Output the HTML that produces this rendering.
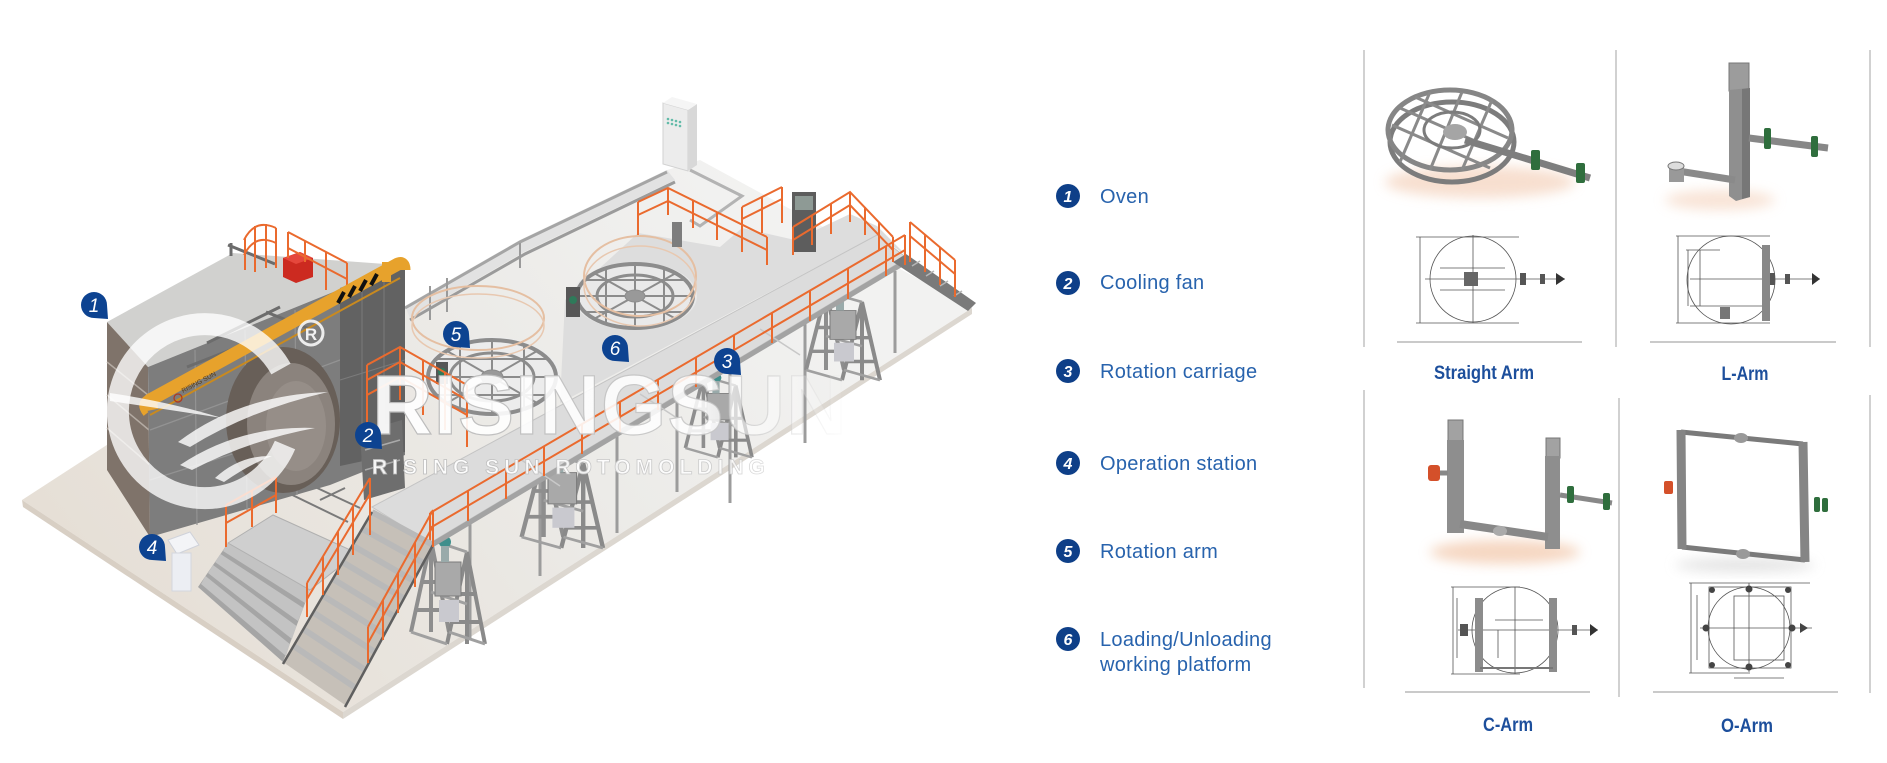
<!DOCTYPE html>
<html><head><meta charset="utf-8">
<style>
html,body{margin:0;padding:0;background:#fff;}
body{width:1887px;height:763px;overflow:hidden;position:relative;font-family:"Liberation Sans",sans-serif;}
svg{position:absolute;left:0;top:0;}
</style></head>
<body>
<svg width="1887" height="763" viewBox="0 0 1887 763" xmlns="http://www.w3.org/2000/svg" font-family="Liberation Sans, sans-serif">
<defs>
 <linearGradient id="floorG" x1="150" y1="650" x2="760" y2="180" gradientUnits="userSpaceOnUse">
  <stop offset="0" stop-color="#e6dfd6"/><stop offset="0.6" stop-color="#ecebe8"/><stop offset="1" stop-color="#f2f2f1"/>
 </linearGradient>
 <linearGradient id="wmG" x1="370" y1="0" x2="850" y2="0" gradientUnits="userSpaceOnUse">
  <stop offset="0" stop-color="#fff" stop-opacity="0.93"/><stop offset="0.7" stop-color="#fff" stop-opacity="0.85"/><stop offset="1" stop-color="#fff" stop-opacity="0"/>
 </linearGradient>
 <linearGradient id="wmS" x1="370" y1="0" x2="850" y2="0" gradientUnits="userSpaceOnUse">
  <stop offset="0" stop-color="#b9b9b9" stop-opacity="1"/><stop offset="0.75" stop-color="#c4c4c4" stop-opacity="0.8"/><stop offset="1" stop-color="#ccc" stop-opacity="0"/>
 </linearGradient>
 <filter id="bl" x="-50%" y="-50%" width="200%" height="200%"><feGaussianBlur stdDeviation="6"/></filter>
 <g id="car">
  <path d="M6,100 L26,8 L44,100 M26,8 L26,100 M12,78 L40,78 M16,50 L36,50" stroke="#8e8e8e" stroke-width="4" fill="none"/>
  <path d="M42,112 L62,20 L80,112 M62,20 L62,112 M48,90 L76,90 M52,62 L72,62" stroke="#8a8a8a" stroke-width="4" fill="none"/>
  <path d="M26,8 L62,20 M6,100 L42,112 M44,100 L80,112 M26,60 L62,72" stroke="#a0a0a0" stroke-width="3" fill="none"/>
  <rect x="30" y="30" width="26" height="34" fill="#a9a9a9" stroke="#7c7c7c"/>
  <rect x="34" y="68" width="20" height="22" fill="#c9c9cf"/>
  <circle cx="40" cy="10" r="6" fill="#3f8f8c"/>
  <rect x="36" y="14" width="8" height="16" fill="#9aa"/>
 </g>
</defs>

<rect width="1887" height="763" fill="#fff"/>

<!-- FLOOR -->
<polygon points="22,500 150,417 405,306 667,170 700,160 972,308 343,712" fill="url(#floorG)"/>
<polygon points="22,500 343,712 343,719 23,507" fill="#d8cfc4"/>
<polygon points="343,712 972,308 972,314 343,719" fill="#dcd7d0"/>

<!-- track rails -->
<polygon points="405,306 520,240 667,170 675,180 524,252 410,318" fill="#e2e2e2"/>
<polyline points="405,308 520,242 667,172" fill="none" stroke="#a5a5a5" stroke-width="3"/>
<polyline points="410,320 525,254 675,182" fill="none" stroke="#9b9b9b" stroke-width="3"/>
<polyline points="690,170 742,196 700,226 690,220" fill="none" stroke="#b3b3b3" stroke-width="3"/>
<g stroke="#9a9a9a" stroke-width="2"><line x1="430" y1="286" x2="430" y2="320"/><line x1="447" y1="278" x2="447" y2="312"/><line x1="520" y1="243" x2="520" y2="268"/></g>

<!-- cabinet -->
<polygon points="663,103 688,110 688,171 663,164" fill="#ececec" stroke="#d2d2d2"/>
<polygon points="688,110 697,104 697,165 688,171" fill="#d8d8d8"/>
<polygon points="663,103 672,97 697,104 688,110" fill="#f5f5f5"/>
<g fill="#63bba9"><circle cx="668" cy="119" r="1.3"/><circle cx="672" cy="120" r="1.3"/><circle cx="676" cy="121" r="1.3"/><circle cx="668" cy="123" r="1.3"/><circle cx="672" cy="124" r="1.3"/><circle cx="676" cy="125" r="1.3"/><circle cx="680" cy="122" r="1.3"/><circle cx="680" cy="126" r="1.3"/></g>

<!-- floor lines in front of oven -->
<g stroke="#7a7a7a" stroke-width="2" fill="none">
 <line x1="280" y1="489" x2="348" y2="522"/><line x1="300" y1="480" x2="360" y2="508"/><line x1="320" y1="500" x2="345" y2="488"/>
</g>

<!-- support legs & carriages -->
<g stroke="#9c9c9c" stroke-width="3">
 <line x1="540" y1="478" x2="540" y2="576"/><line x1="617" y1="433" x2="617" y2="533"/><line x1="677" y1="398" x2="677" y2="492"/>
 <line x1="730" y1="367" x2="730" y2="503"/><line x1="805" y1="323" x2="805" y2="443"/><line x1="895" y1="271" x2="895" y2="353"/>
 <line x1="470" y1="520" x2="470" y2="640"/>
</g>
<use href="#car" transform="translate(405,532) scale(1,1)"/>
<use href="#car" transform="translate(515,445) scale(1.1,0.92)"/>
<use href="#car" transform="translate(680,370) scale(0.9,0.78)"/>
<use href="#car" transform="translate(800,285) scale(1,0.85)"/>

<!-- OVEN -->
<polygon points="107,322 233,253 400,265 148,367" fill="#d1d1cf"/>
<polygon points="107,322 148,367 150,537 107,470" fill="#7f736a"/>
<g stroke="#b4aba3" stroke-width="1.5"><line x1="107" y1="362" x2="148" y2="395"/><line x1="107" y1="395" x2="149" y2="430"/><line x1="107" y1="428" x2="150" y2="465"/></g>
<polygon points="148,367 400,265 405,262 405,455 330,485 150,537" fill="#7d7d7d"/>
<g stroke="#939393" stroke-width="1.2" fill="none">
 <line x1="195" y1="350" x2="197" y2="525"/><line x1="245" y1="330" x2="247" y2="510"/><line x1="295" y1="310" x2="297" y2="495"/>
 <line x1="150" y1="430" x2="340" y2="360"/><line x1="150" y1="480" x2="340" y2="420"/>
</g>
<ellipse cx="283" cy="420" rx="57" ry="73" fill="#685f58"/>
<ellipse cx="291" cy="424" rx="44" ry="61" fill="#8b837d"/>
<ellipse cx="296" cy="426" rx="30" ry="45" fill="#968e88"/>
<polygon points="340,288 405,262 405,452 340,466" fill="#5f5f5f" opacity="0.88"/>
<g stroke="#7b7b7b" stroke-width="1"><line x1="362" y1="280" x2="362" y2="462"/><line x1="384" y1="271" x2="384" y2="457"/><line x1="340" y1="380" x2="405" y2="360"/></g>
<!-- top pipes -->
<g stroke="#6c6c6c" stroke-width="3" fill="none">
 <line x1="187" y1="367" x2="307" y2="320"/><line x1="207" y1="343" x2="280" y2="307"/><line x1="266" y1="312" x2="312" y2="330"/>
 <line x1="228" y1="245" x2="275" y2="264"/><line x1="231" y1="243" x2="231" y2="256"/>
</g>
<!-- red burner -->
<polygon points="283,258 300,252 313,258 313,277 296,283 283,277" fill="#cc2a20"/>
<polygon points="283,258 300,252 313,258 296,264" fill="#e5473c"/>
<!-- top rails -->
<g stroke="#ea6a2e" stroke-width="2" fill="none">
 <path d="M244,240 Q255,218 276,228 M244,255 Q255,233 276,243"/>
 <line x1="245" y1="238" x2="245" y2="270"/><line x1="255" y1="226" x2="255" y2="272"/><line x1="266" y1="224" x2="266" y2="268"/><line x1="276" y1="228" x2="276" y2="268"/>
 <line x1="288" y1="232" x2="347" y2="263"/><line x1="288" y1="248" x2="347" y2="279"/>
 <line x1="288" y1="232" x2="288" y2="258"/><line x1="305" y1="241" x2="305" y2="262"/><line x1="326" y1="252" x2="326" y2="290"/><line x1="347" y1="263" x2="347" y2="298"/>
</g>
<!-- yellow beam -->
<path d="M152,410 L150,400 L398,264 Q404,262 404,270" fill="none" stroke="#e7a22c" stroke-width="13" stroke-linejoin="round"/>
<path d="M150,415 L400,278" stroke="#c98a1f" stroke-width="2"/>
<path d="M147,398 Q138,404 146,414" fill="none" stroke="#e7a22c" stroke-width="6"/>
<rect x="382" y="262" width="9" height="20" fill="#e7a22c"/>
<g stroke="#111" stroke-width="4"><line x1="338" y1="303" x2="344" y2="292"/><line x1="349" y1="297" x2="355" y2="286"/><line x1="360" y1="291" x2="366" y2="280"/><line x1="371" y1="285" x2="377" y2="274"/></g>
<text x="0" y="0" font-size="6.5" fill="#5a3b10" transform="translate(183,393) rotate(-28)">RISING SUN</text>
<circle cx="178" cy="398" r="4" fill="none" stroke="#b3361a" stroke-width="1.2"/>

<!-- lower platform and bleacher steps -->
<polygon points="228,543 310,590 283,662 198,587" fill="#a5a5a5"/>
<g fill="#c3c3c3">
 <polygon points="228,543 310,590 305,603 223,551"/>
 <polygon points="220.5,554 303.3,608 298,621 215,562"/>
 <polygon points="213,565 296.5,626 292,639 208,573"/>
 <polygon points="205.5,576 289.8,644 286,656 201,584"/>
</g>
<polygon points="228,543 273,515 357,553 310,590" fill="#cfcfcf" stroke="#b0b0b0"/>
<g stroke="#ea6a2e" stroke-width="2" fill="none">
 <line x1="226" y1="505" x2="276" y2="477"/><line x1="226" y1="523" x2="276" y2="495"/>
 <line x1="226" y1="505" x2="226" y2="547"/><line x1="252" y1="490" x2="252" y2="527"/><line x1="276" y1="477" x2="276" y2="513"/>
</g>
<!-- operation station -->
<polygon points="168,540 190,532 199,545 177,554" fill="#f3f4f7" stroke="#cfd2da"/>
<rect x="172" y="553" width="19" height="38" fill="#eceef3" stroke="#d3d6de"/>

<!-- cooling fan area machinery -->
<polygon points="360,432 402,420 405,488 364,500" fill="#6e6e6e"/>
<g stroke="#aaa" stroke-width="1.5"><line x1="365" y1="450" x2="400" y2="440"/><line x1="365" y1="470" x2="400" y2="460"/></g>

<!-- DECK -->
<polygon points="560,403 565,300 638,233 720,247 742,228 795,240 850,214 877,226 907,256 877,235" fill="#dddddd"/>
<polygon points="372,507 877,235 907,258 430,543" fill="#dcdcdc" stroke="#c4c4c4"/>
<polygon points="430,543 907,258 907,264 430,549" fill="#a3a3a3"/>
<g stroke="#c8c8c8" stroke-width="1.5"><line x1="520" y1="459" x2="560" y2="486"/><line x1="640" y1="394" x2="680" y2="420"/><line x1="760" y1="329" x2="800" y2="355"/></g>

<!-- ARM 6 -->
<ellipse cx="635" cy="296" rx="62" ry="34" fill="#e9e9e9"/>
<g transform="translate(635,296)" stroke="#8c8c8c" fill="none">
 <ellipse rx="58" ry="32" stroke-width="4"/><ellipse rx="38" ry="21" stroke-width="3"/>
 <path d="M-58,0 L58,0 M0,-32 L0,32 M-41,-23 L41,23 M-41,23 L41,-23 M-29,-28 L-29,28 M29,-28 L29,28 M-50,-16 L50,-16 M-50,16 L50,16" stroke-width="2"/>
 <ellipse rx="10" ry="6" fill="#999"/>
</g>
<rect x="566" y="287" width="14" height="30" fill="#575757"/><circle cx="573" cy="300" r="4" fill="#2f7a5a"/>
<ellipse cx="640" cy="276" rx="56" ry="40" fill="none" stroke="#e5bfa2" stroke-width="2"/>
<ellipse cx="640" cy="286" rx="56" ry="40" fill="none" stroke="#e8c8b0" stroke-width="1.5"/>
<rect x="672" y="222" width="10" height="25" fill="#7d7d7d"/>

<!-- ARM 5 -->
<ellipse cx="492" cy="377" rx="68" ry="40" fill="#ececec"/>
<g transform="translate(492,377)" stroke="#8c8c8c" fill="none">
 <ellipse rx="64" ry="37" stroke-width="4"/><ellipse rx="42" ry="24" stroke-width="3"/>
 <path d="M-64,0 L64,0 M0,-37 L0,37 M-45,-26 L45,26 M-45,26 L45,-26 M-32,-32 L-32,32 M32,-32 L32,32 M-55,-18 L55,-18 M-55,18 L55,18" stroke-width="2"/>
 <ellipse rx="11" ry="7" fill="#999"/>
</g>
<rect x="436" y="362" width="12" height="22" fill="#565656"/><circle cx="442" cy="372" r="4" fill="#2f7a5a"/>
<ellipse cx="478" cy="318" rx="66" ry="32" fill="none" stroke="#e5bfa2" stroke-width="2"/>
<ellipse cx="478" cy="326" rx="66" ry="32" fill="none" stroke="#e8c8b0" stroke-width="1.5"/>

<!-- control panel -->
<rect x="792" y="192" width="24" height="60" fill="#5d5d5d"/>
<rect x="795" y="196" width="18" height="14" fill="#8e9a95"/>

<!-- right stairs -->
<polygon points="893,262 906,254 976,303 968,311" fill="#7a7a7a"/>
<g stroke="#b5b5b5" stroke-width="1.5"><line x1="912" y1="266" x2="920" y2="261"/><line x1="926" y1="276" x2="934" y2="271"/><line x1="940" y1="286" x2="948" y2="281"/><line x1="954" y1="296" x2="962" y2="291"/></g>

<!-- ORANGE RAILS -->
<g stroke="#ea6a2e" stroke-width="2" fill="none">
 <line x1="430" y1="513" x2="905" y2="235"/><line x1="430" y1="528" x2="905" y2="250"/>
 <path d="M430,543V513 M468,521V491 M506,499V469 M544,476V446 M582,454V424 M620,432V402 M658,410V380 M696,387V357 M734,365V335 M772,343V313 M810,321V291 M848,299V269 M886,276V246 M905,265V235"/>
 <polyline points="638,202 668,188 767,237"/><polyline points="638,215 668,201 767,250"/>
 <path d="M638,202V235 M668,188V215 M693,200V228 M717,212V240 M742,223V252 M767,237V265"/>
 <line x1="742" y1="207" x2="782" y2="187"/><line x1="742" y1="219" x2="782" y2="199"/>
 <path d="M742,207V247 M762,197V233 M782,187V223"/>
 <polyline points="793,227 850,192 893,237"/><polyline points="793,240 850,205 893,250"/>
 <path d="M793,227V255 M812,215V245 M831,204V234 M850,192V222 M865,207V235 M879,222V250 M893,237V262"/>
 <line x1="910" y1="222" x2="955" y2="260"/><line x1="910" y1="236" x2="955" y2="274"/>
 <path d="M910,222V262 M925,235V272 M940,247V285 M955,260V297"/>
 <polyline points="367,365 400,347 467,385"/><polyline points="367,380 400,362 467,400"/><polyline points="367,395 400,377 467,415"/>
 <path d="M367,365V425 M400,347V400 M423,360V415 M445,372V430 M467,385V447"/>
</g>

<!-- MAIN STAIRS -->
<polygon points="372,512 433,545 345,705 283,662" fill="#c6c0b8"/>
<g stroke="#b9b9b9" stroke-width="6">
 <line x1="372" y1="512" x2="433" y2="545"/><line x1="362.1" y1="528.7" x2="423.2" y2="562.8"/><line x1="352.2" y1="545.3" x2="413.4" y2="580.6"/>
 <line x1="342.3" y1="562" x2="403.7" y2="598.3"/><line x1="332.4" y1="578.7" x2="393.9" y2="616.1"/><line x1="322.5" y1="595.4" x2="384.1" y2="633.9"/>
 <line x1="312.6" y1="612" x2="374.3" y2="651.7"/><line x1="302.7" y1="628.7" x2="364.5" y2="669.5"/><line x1="292.8" y1="645.4" x2="354.8" y2="687.3"/>
</g>
<g stroke="#5f5f5f" stroke-width="2.5"><line x1="372" y1="512" x2="283" y2="664"/><line x1="433" y1="545" x2="345" y2="707"/></g>
<g stroke="#ea6a2e" stroke-width="2" fill="none">
 <line x1="370" y1="478" x2="307" y2="583"/><line x1="370" y1="494" x2="307" y2="599"/>
 <path d="M307,583V617 M323,557V595 M338,532V575 M353,507V555 M370,478V535"/>
 <line x1="433" y1="510" x2="368" y2="627"/><line x1="433" y1="526" x2="368" y2="643"/>
 <path d="M368,627V663 M383,600V640 M398,573V613 M415,542V587 M433,510V547"/>
</g>

<!-- WATERMARK -->
<path d="M281,369 A87,87 0 1,0 285,445" fill="none" stroke="#fff" stroke-opacity="0.78" stroke-width="22"/>
<g fill="#fff" fill-opacity="0.8">
 <path d="M178,442 Q240,395 328,392 Q250,410 190,447 Z"/>
 <path d="M180,465 Q240,425 315,428 Q250,440 192,470 Z"/>
 <path d="M215,478 Q240,455 272,456 Q250,464 224,482 Z"/>
 <path d="M110,393 Q170,402 222,418 Q170,410 110,401 Z"/>
</g>
<circle cx="311" cy="333" r="12" fill="none" stroke="#fff" stroke-opacity="0.85" stroke-width="3"/>
<text x="311" y="340" font-size="17" font-weight="bold" fill="#fff" fill-opacity="0.9" text-anchor="middle">R</text>
<text x="372" y="434" font-size="84" font-weight="bold" fill="url(#wmG)" stroke="url(#wmS)" stroke-width="1.2" letter-spacing="1">RISINGSUN</text>
<text x="372" y="474" font-size="21" font-weight="bold" fill="url(#wmG)" stroke="url(#wmS)" stroke-width="0.8" letter-spacing="5">RISING SUN ROTOMOLDING</text>

<!-- BUBBLES -->
<g fill="#0d4391">
 <path d="M81,305 A13,13 0 1,1 107,305 L108,319 L94,318 A13,13 0 0,1 81,305 Z"/>
 <path d="M355,435 A13,13 0 1,1 381,435 L382,449 L368,448 A13,13 0 0,1 355,435 Z"/>
 <path d="M714,361 A13,13 0 1,1 740,361 L741,375 L727,374 A13,13 0 0,1 714,361 Z"/>
 <path d="M139,547 A13,13 0 1,1 165,547 L166,561 L152,560 A13,13 0 0,1 139,547 Z"/>
 <path d="M443,334 A13,13 0 1,1 469,334 L470,348 L456,347 A13,13 0 0,1 443,334 Z"/>
 <path d="M602,348 A13,13 0 1,1 628,348 L629,362 L615,361 A13,13 0 0,1 602,348 Z"/>
</g>
<g fill="#fff" font-size="19" font-style="italic" text-anchor="middle">
 <text x="94" y="312">1</text><text x="368" y="442">2</text><text x="727" y="368">3</text>
 <text x="152" y="554">4</text><text x="456" y="341">5</text><text x="615" y="355">6</text>
</g>

<!-- LEGEND -->
<g fill="#0e3f88">
 <circle cx="1068" cy="196" r="12"/><circle cx="1068" cy="283" r="12"/><circle cx="1068" cy="371" r="12"/>
 <circle cx="1068" cy="463" r="12"/><circle cx="1068" cy="551" r="12"/><circle cx="1068" cy="639" r="12"/>
</g>
<g fill="#fff" font-size="16" font-weight="bold" font-style="italic" text-anchor="middle">
 <text x="1068" y="202">1</text><text x="1068" y="289">2</text><text x="1068" y="377">3</text>
 <text x="1068" y="469">4</text><text x="1068" y="557">5</text><text x="1068" y="645">6</text>
</g>
<g fill="#2863ad" font-size="20" letter-spacing="0.3">
 <text x="1100" y="203">Oven</text>
 <text x="1100" y="289">Cooling fan</text>
 <text x="1100" y="378">Rotation carriage</text>
 <text x="1100" y="470">Operation station</text>
 <text x="1100" y="558">Rotation arm</text>
 <text x="1100" y="646">Loading/Unloading</text>
 <text x="1100" y="671">working platform</text>
</g>

<!-- RIGHT PANEL LINES -->
<g stroke="#c2c2c2" stroke-width="1.5">
 <line x1="1364" y1="50" x2="1364" y2="347"/><line x1="1616" y1="50" x2="1616" y2="347"/><line x1="1870" y1="50" x2="1870" y2="347"/>
 <line x1="1364" y1="390" x2="1364" y2="688"/><line x1="1619" y1="398" x2="1619" y2="697"/><line x1="1870" y1="395" x2="1870" y2="693"/>
</g>
<g stroke="#b8b8b8" stroke-width="1.5">
 <line x1="1397" y1="342" x2="1582" y2="342"/><line x1="1650" y1="342" x2="1836" y2="342"/>
 <line x1="1405" y1="692" x2="1590" y2="692"/><line x1="1653" y1="692" x2="1838" y2="692"/>
</g>
<g fill="#1d4f9c" font-size="19" font-weight="bold" text-anchor="middle">
 <text x="1484" y="379" textLength="100" lengthAdjust="spacingAndGlyphs">Straight Arm</text>
 <text x="1745" y="380" textLength="47" lengthAdjust="spacingAndGlyphs">L-Arm</text>
 <text x="1508" y="731" textLength="50" lengthAdjust="spacingAndGlyphs">C-Arm</text>
 <text x="1747" y="732" textLength="52" lengthAdjust="spacingAndGlyphs">O-Arm</text>
</g>

<!-- STRAIGHT ARM -->
<ellipse cx="1480" cy="182" rx="95" ry="16" fill="#f4d2bc" opacity="0.7" filter="url(#bl)"/>
<g fill="none" stroke="#7c7c7c">
 <ellipse cx="1452" cy="142" rx="62" ry="40" stroke-width="5"/>
 <ellipse cx="1450" cy="130" rx="62" ry="40" stroke-width="5" stroke="#868686"/>
 <path d="M1400,108 L1500,152 M1392,125 L1490,168 M1415,97 L1508,138 M1430,92 L1400,162 M1462,92 L1430,170 M1492,100 L1462,170" stroke-width="3" stroke="#8a8a8a"/>
 <ellipse cx="1452" cy="130" rx="28" ry="18" stroke-width="3"/>
</g>
<ellipse cx="1455" cy="132" rx="12" ry="8" fill="#a5a5a5"/>
<line x1="1465" y1="140" x2="1590" y2="178" stroke="#7e7e7e" stroke-width="7"/>
<rect x="1531" y="150" width="9" height="20" rx="2" fill="#2f6e3d"/>
<rect x="1576" y="163" width="9" height="20" rx="2" fill="#2f6e3d"/>
<g stroke="#555" stroke-width="0.8" fill="none">
 <circle cx="1473" cy="279" r="43"/>
 <line x1="1473" y1="235" x2="1473" y2="323"/>
 <line x1="1425" y1="279" x2="1565" y2="279"/>
 <line x1="1440" y1="268" x2="1505" y2="268"/><line x1="1440" y1="290" x2="1505" y2="290"/>
 <line x1="1416" y1="237" x2="1519" y2="237"/><line x1="1416" y1="323" x2="1519" y2="323"/>
 <line x1="1420" y1="237" x2="1420" y2="323"/>
</g>
<rect x="1464" y="272" width="14" height="14" fill="#666"/>
<rect x="1520" y="273" width="6" height="12" fill="#555"/><rect x="1540" y="274" width="5" height="10" fill="#555"/>
<path d="M1556,273 l9,6 l-9,6z" fill="#333"/>

<!-- L ARM -->
<ellipse cx="1720" cy="200" rx="55" ry="10" fill="#f4d2bc" opacity="0.6" filter="url(#bl)"/>
<rect x="1729" y="63" width="20" height="28" fill="#9c9c9c" stroke="#777"/>
<polygon points="1729,90 1749,88 1750,197 1736,201 1729,196" fill="#8f8f8f"/>
<polygon points="1742,89 1750,88 1750,197 1742,199" fill="#777"/>
<line x1="1749" y1="138" x2="1828" y2="148" stroke="#878787" stroke-width="7"/>
<rect x="1764" y="128" width="7" height="21" rx="2" fill="#2f6e3d"/>
<rect x="1811" y="136" width="7" height="21" rx="2" fill="#2f6e3d"/>
<line x1="1735" y1="180" x2="1678" y2="171" stroke="#8a8a8a" stroke-width="7"/>
<rect x="1669" y="166" width="15" height="16" fill="#999"/>
<ellipse cx="1676" cy="166" rx="8" ry="4" fill="#ddd" stroke="#777"/>
<g stroke="#555" stroke-width="0.8" fill="none">
 <circle cx="1731" cy="280" r="44"/>
 <line x1="1676" y1="236" x2="1770" y2="236"/><line x1="1676" y1="323" x2="1770" y2="323"/>
 <line x1="1678" y1="236" x2="1678" y2="323"/><line x1="1688" y1="250" x2="1688" y2="306"/>
 <line x1="1686" y1="250" x2="1720" y2="250"/><line x1="1690" y1="306" x2="1765" y2="306"/>
 <line x1="1700" y1="250" x2="1700" y2="306"/>
 <line x1="1690" y1="279" x2="1820" y2="279"/>
</g>
<rect x="1762" y="245" width="8" height="76" fill="#888"/>
<rect x="1770" y="273" width="5" height="12" fill="#555"/><rect x="1785" y="274" width="5" height="10" fill="#555"/>
<path d="M1812,273 l8,6 l-8,6z" fill="#333"/>
<rect x="1720" y="307" width="10" height="12" fill="#777"/>

<!-- C ARM -->
<ellipse cx="1505" cy="552" rx="75" ry="12" fill="#f2c6a8" opacity="0.7" filter="url(#bl)"/>
<rect x="1448" y="420" width="15" height="22" fill="#a2a2a2" stroke="#777"/>
<rect x="1447" y="440" width="17" height="93" fill="#8e8e8e"/>
<rect x="1546" y="438" width="14" height="20" fill="#a2a2a2" stroke="#777"/>
<rect x="1545" y="456" width="15" height="93" fill="#8e8e8e"/>
<line x1="1460" y1="524" x2="1548" y2="537" stroke="#888" stroke-width="8"/>
<ellipse cx="1500" cy="531" rx="7" ry="5" fill="#aaa"/>
<rect x="1428" y="465" width="12" height="16" rx="3" fill="#d4502a"/>
<line x1="1440" y1="473" x2="1448" y2="473" stroke="#888" stroke-width="5"/>
<line x1="1560" y1="495" x2="1612" y2="503" stroke="#888" stroke-width="5"/>
<rect x="1567" y="486" width="7" height="17" rx="2" fill="#2f6e3d"/>
<rect x="1603" y="493" width="7" height="17" rx="2" fill="#2f6e3d"/>
<g stroke="#555" stroke-width="0.8" fill="none">
 <circle cx="1515" cy="630" r="43"/>
 <line x1="1451" y1="587" x2="1520" y2="587"/><line x1="1451" y1="674" x2="1520" y2="674"/>
 <line x1="1453" y1="587" x2="1453" y2="674"/><line x1="1457" y1="598" x2="1457" y2="658"/>
 <line x1="1495" y1="620" x2="1543" y2="620"/><line x1="1498" y1="630" x2="1498" y2="658"/>
 <line x1="1458" y1="630" x2="1598" y2="630"/>
 <line x1="1515" y1="587" x2="1515" y2="674"/>
</g>
<rect x="1475" y="598" width="8" height="74" fill="#8c8c8c"/>
<rect x="1549" y="598" width="8" height="74" fill="#8c8c8c"/>
<line x1="1480" y1="668" x2="1553" y2="668" stroke="#777" stroke-width="2"/>
<rect x="1460" y="624" width="8" height="12" fill="#555"/>
<rect x="1572" y="625" width="5" height="10" fill="#555"/>
<path d="M1590,624 l8,6 l-8,6z" fill="#333"/>

<!-- O ARM -->
<ellipse cx="1745" cy="565" rx="70" ry="7" fill="#ddd" opacity="0.8" filter="url(#bl)"/>
<path d="M1681,432 L1803,444 M1682,547 L1805,560" stroke="#7a7a7a" stroke-width="5" fill="none"/>
<path d="M1681,430 L1682,549 M1803,442 L1805,562" stroke="#858585" stroke-width="9" fill="none"/>
<ellipse cx="1741" cy="438" rx="7" ry="5" fill="#999"/><ellipse cx="1743" cy="554" rx="7" ry="5" fill="#999"/>
<rect x="1664" y="481" width="9" height="13" rx="2" fill="#d4502a"/>
<rect x="1814" y="497" width="6" height="15" rx="2" fill="#2f6e3d"/><rect x="1822" y="498" width="6" height="14" rx="2" fill="#2f6e3d"/>
<g stroke="#555" stroke-width="0.8" fill="none">
 <circle cx="1749" cy="628" r="41"/>
 <rect x="1709" y="587" width="82" height="81"/>
 <line x1="1689" y1="583" x2="1810" y2="583"/><line x1="1689" y1="673" x2="1750" y2="673"/>
 <line x1="1691" y1="583" x2="1691" y2="673"/><line x1="1697" y1="595" x2="1697" y2="660"/>
 <line x1="1749" y1="583" x2="1749" y2="672"/>
 <line x1="1700" y1="628" x2="1812" y2="628"/>
 <rect x="1734" y="596" width="50" height="64"/>
 <line x1="1734" y1="678" x2="1784" y2="678"/>
</g>
<g fill="#444">
 <circle cx="1712" cy="590" r="3"/><circle cx="1788" cy="590" r="3"/><circle cx="1712" cy="665" r="3"/><circle cx="1788" cy="665" r="3"/>
 <circle cx="1749" cy="589" r="3.5"/><circle cx="1749" cy="667" r="3.5"/><circle cx="1706" cy="628" r="3.5"/><circle cx="1792" cy="628" r="3.5"/>
 <path d="M1800,623 l8,5 l-8,5z"/>
</g>
</svg>
</body></html>
